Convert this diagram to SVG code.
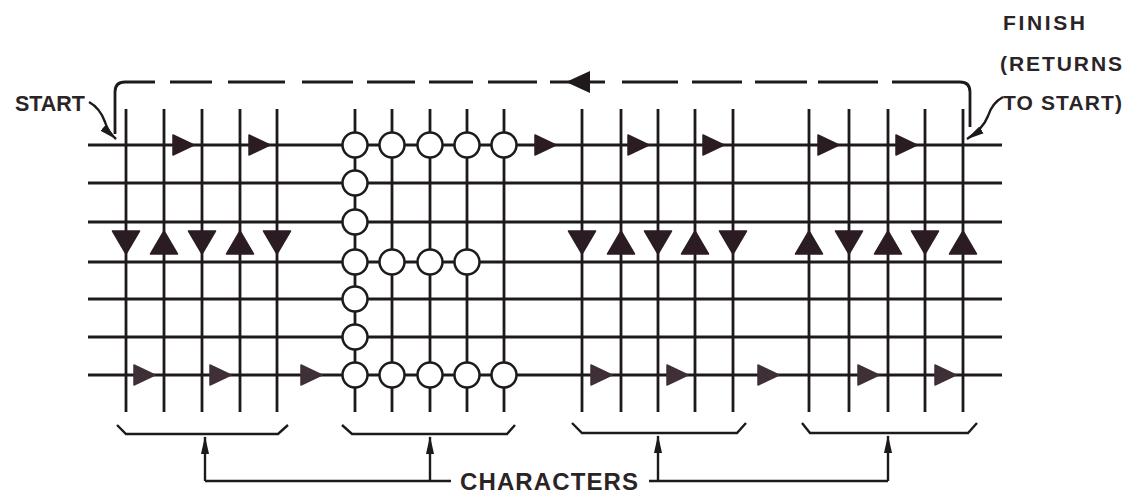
<svg xmlns="http://www.w3.org/2000/svg" width="1136" height="493" viewBox="0 0 1136 493">
<style>
.ln{stroke:#1e1a1c;stroke-width:2.8;fill:none;stroke-linecap:butt}
.thin{stroke:#1e1a1c;stroke-width:2.4;fill:none}
.tri{fill:#2b1c24;stroke:#2b1c24;stroke-width:1.5;stroke-linejoin:round}
.tri2{fill:#3f2f37;stroke:#3f2f37;stroke-width:1.5;stroke-linejoin:round}
.cir{fill:#ffffff;stroke:#1e1a1c;stroke-width:2.5}
.lbl{font-family:"Liberation Sans",Arial,sans-serif;font-weight:bold;fill:#2a2426}
.ah{fill:#1e1a1c}
</style>
<defs>
<path id="tdown" d="M-13.5,-11 L13.5,-11 L0,12 Z"/>
<path id="tup" d="M-13.5,12 L13.5,12 L0,-11 Z"/>
<path id="tright" d="M-10,-10 L-10,10 L11,0 Z"/>
<marker id="arrL" viewBox="0 0 20 10" refX="19" refY="5" markerWidth="18" markerHeight="10" markerUnits="userSpaceOnUse" orient="auto">
<path d="M0,0.5 L20,5 L0,9.5 Z" fill="#1e1a1c"/>
</marker>
</defs>

<g id="grid">
<g id="rows" class="ln">
<line x1="88" y1="145" x2="1002" y2="145"/>
<line x1="88" y1="183" x2="1002" y2="183"/>
<line x1="88" y1="222" x2="1002" y2="222"/>
<line x1="88" y1="262" x2="1002" y2="262"/>
<line x1="88" y1="299" x2="1002" y2="299"/>
<line x1="88" y1="337" x2="1002" y2="337"/>
<line x1="88" y1="375" x2="1002" y2="375"/>
</g>
<g id="columns" class="ln">
<line x1="126" y1="109" x2="126" y2="412"/>
<line x1="164" y1="109" x2="164" y2="412"/>
<line x1="202" y1="109" x2="202" y2="412"/>
<line x1="240" y1="109" x2="240" y2="412"/>
<line x1="277" y1="109" x2="277" y2="412"/>
<line x1="355" y1="109" x2="355" y2="412"/>
<line x1="392" y1="109" x2="392" y2="412"/>
<line x1="430" y1="109" x2="430" y2="412"/>
<line x1="467" y1="109" x2="467" y2="412"/>
<line x1="504" y1="109" x2="504" y2="412"/>
<line x1="582" y1="109" x2="582" y2="412"/>
<line x1="621" y1="109" x2="621" y2="412"/>
<line x1="658" y1="109" x2="658" y2="412"/>
<line x1="695" y1="109" x2="695" y2="412"/>
<line x1="733" y1="109" x2="733" y2="412"/>
<line x1="809" y1="109" x2="809" y2="412"/>
<line x1="849" y1="109" x2="849" y2="412"/>
<line x1="888" y1="109" x2="888" y2="412"/>
<line x1="925" y1="109" x2="925" y2="412"/>
<line x1="963" y1="109" x2="963" y2="412"/>
</g>
</g>

<g id="character-E">
<circle class="cir" cx="355" cy="145" r="12.5"/>
<circle class="cir" cx="392" cy="145" r="12.5"/>
<circle class="cir" cx="430" cy="145" r="12.5"/>
<circle class="cir" cx="467" cy="145" r="12.5"/>
<circle class="cir" cx="504" cy="145" r="12.5"/>
<circle class="cir" cx="355" cy="183" r="12.5"/>
<circle class="cir" cx="355" cy="222" r="12.5"/>
<circle class="cir" cx="355" cy="262" r="12.5"/>
<circle class="cir" cx="392" cy="262" r="12.5"/>
<circle class="cir" cx="430" cy="262" r="12.5"/>
<circle class="cir" cx="467" cy="262" r="12.5"/>
<circle class="cir" cx="355" cy="299" r="12.5"/>
<circle class="cir" cx="355" cy="337" r="12.5"/>
<circle class="cir" cx="355" cy="375" r="12.5"/>
<circle class="cir" cx="392" cy="375" r="12.5"/>
<circle class="cir" cx="430" cy="375" r="12.5"/>
<circle class="cir" cx="467" cy="375" r="12.5"/>
<circle class="cir" cx="504" cy="375" r="12.5"/>
</g>

<g id="direction-arrows">
<g class="tri">
<use href="#tright" x="183" y="145"/>
<use href="#tright" x="259" y="145"/>
<use href="#tright" x="545" y="145"/>
<use href="#tright" x="638" y="145"/>
<use href="#tright" x="713" y="145"/>
<use href="#tright" x="828" y="145"/>
<use href="#tright" x="906" y="145"/>
<use href="#tdown" x="126" y="242"/>
<use href="#tup" x="164" y="242"/>
<use href="#tdown" x="202" y="242"/>
<use href="#tup" x="240" y="242"/>
<use href="#tdown" x="277" y="242"/>
<use href="#tdown" x="582" y="242"/>
<use href="#tup" x="621" y="242"/>
<use href="#tdown" x="658" y="242"/>
<use href="#tup" x="695" y="242"/>
<use href="#tdown" x="733" y="242"/>
<use href="#tup" x="809" y="242"/>
<use href="#tdown" x="849" y="242"/>
<use href="#tup" x="888" y="242"/>
<use href="#tdown" x="925" y="242"/>
<use href="#tup" x="963" y="242"/>
</g>
<g class="tri2">
<use href="#tright" x="144" y="375"/>
<use href="#tright" x="220" y="375"/>
<use href="#tright" x="311" y="375"/>
<use href="#tright" x="601" y="375"/>
<use href="#tright" x="677" y="375"/>
<use href="#tright" x="768" y="375"/>
<use href="#tright" x="868" y="375"/>
<use href="#tright" x="945" y="375"/>
</g>
</g>

<g id="connectors">
<g id="return-path">
<path class="ln" d="M115,134 V92 Q115,82 125,82 H155"/>
<path class="ln" d="M170,82H212 M228,82H285 M302,82H353 M367,82H415 M429,82H473 M488,82H537 M550,82H605 M622,82H678 M692,82H742 M755,82H807 M818,82H878"/>
<path class="ln" d="M892,82 H960 Q970,82 970,92 V127"/>
<path class="ah" d="M566,82 L590,71 L590,93 Z"/>
</g>
<path id="start-leader" class="thin" d="M89,102 Q100,108 105,122 Q108,132 116,139" marker-end="url(#arrL)"/>
<path id="finish-leader" class="thin" d="M1003,97 Q992,103 988,116 Q983,129 967,139" marker-end="url(#arrL)"/>
<g id="braces" class="thin">
<path d="M117,425 L126,434 H278 L288,425"/>
<path d="M342,425 L352,434 H507 L515,425"/>
<path d="M572,423 L582,433 H737 L746,423"/>
<path d="M802,423 L810,433 H968 L977,423"/>
</g>
<g id="pointers" class="thin">
<path d="M205,481 V437" marker-end="url(#arrL)"/>
<path d="M430,481 V437" marker-end="url(#arrL)"/>
<path d="M658,481 V436" marker-end="url(#arrL)"/>
<path d="M888,481 V436" marker-end="url(#arrL)"/>
<path d="M205,481 H451"/>
<path d="M649,481 H888"/>
</g>
</g>

<g id="labels">
<text id="start" class="lbl" x="15" y="111" font-size="22" textLength="70" lengthAdjust="spacingAndGlyphs">START</text>
<text class="lbl" x="1003" y="30" font-size="21" textLength="82" lengthAdjust="spacing">FINISH</text>
<text class="lbl" x="1000" y="71" font-size="21" textLength="122" lengthAdjust="spacing">(RETURNS</text>
<text class="lbl" x="1003" y="110" font-size="21" textLength="119" lengthAdjust="spacing">TO START)</text>
<text id="characters" class="lbl" x="460" y="490" font-size="24" textLength="178" lengthAdjust="spacing">CHARACTERS</text>
</g>
</svg>
